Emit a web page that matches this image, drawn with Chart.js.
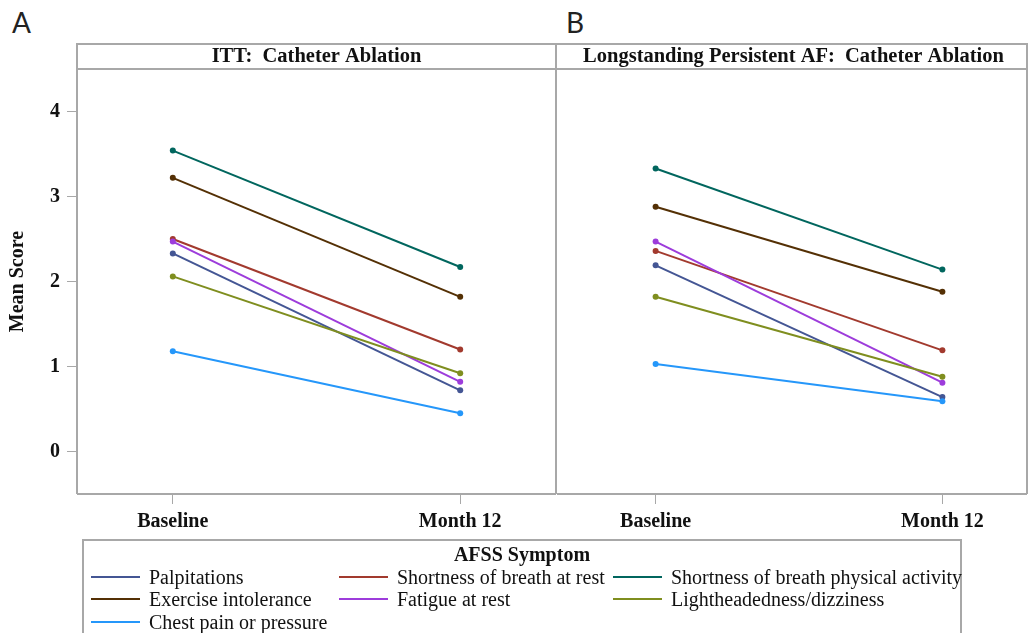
<!DOCTYPE html>
<html>
<head>
<meta charset="utf-8">
<script src="https://cdn.jsdelivr.net/npm/chart.js@4.4.1/dist/chart.umd.min.js"></script>
<style>
  html, body { margin: 0; padding: 0; background: #fff; }
  body { width: 1030px; height: 633px; overflow: hidden; position: relative; font-family: "Liberation Serif", "Times New Roman", serif; }
  .tag { position: absolute; top: 8px; font-family: Lato, "Open Sans", sans-serif; font-size: 28px; line-height: 1; color: #222; }
  .wrap { position: absolute; top: 43px; }
  #legend { position: absolute; left: 82px; top: 539px; width: 880px; height: 110px; border: 2px solid #a8a8a8; box-sizing: border-box; }
  #legend .ttl { position: absolute; left: 0; right: 0; top: 0; text-align: center; font-weight: bold; font-size: 20px; line-height: 26px; color: #111; }
  #legend .item { position: absolute; height: 22px; display: flex; align-items: center; white-space: nowrap; font-size: 20px; color: #111; }
  #legend .swatch { display: inline-block; width: 49px; height: 2px; margin-right: 9px; }
</style>
</head>
<body>
<div class="tag" style="left:12px">A</div>
<div class="tag" style="left:566px">B</div>
<div class="wrap" style="left:0;width:559px;height:497px"><canvas id="itt" width="559" height="497"></canvas></div>
<div class="wrap" style="left:557px;width:473px;height:497px"><canvas id="lsp" width="473" height="497"></canvas></div>
<div id="legend"><div class="ttl">AFSS Symptom</div></div>

<script>
// Visits on the x axis
const visits = ['Baseline', 'Month 12'];

// AFSS symptoms (legend order)
const symptoms = [
  'Palpitations',
  'Shortness of breath at rest',
  'Shortness of breath physical activity',
  'Exercise intolerance',
  'Fatigue at rest',
  'Lightheadedness/dizziness',
  'Chest pain or pressure'
];

const symptomColors = ['#445694', '#A23A2E', '#01665E', '#543005', '#9D3CDB', '#7F8E1F', '#2597FA'];

// Mean scores, ITT catheter ablation group
const ittBaseline = [2.33, 2.50, 3.54, 3.22, 2.47, 2.06, 1.18];
const ittMonth12  = [0.72, 1.20, 2.17, 1.82, 0.82, 0.92, 0.45];

// Mean scores, longstanding persistent AF catheter ablation group
const lspBaseline = [2.19, 2.36, 3.33, 2.88, 2.47, 1.82, 1.03];
const lspMonth12  = [0.64, 1.19, 2.14, 1.88, 0.81, 0.88, 0.59];

// Y axis ticks
const yTicks = [0, 1, 2, 3, 4];

const FRAME = '#a8a8a8';
const SERIF = '"Liberation Serif", "Times New Roman", serif';

// Draws the panel frame: header strip plus the box around the plot area.
// The left edge can be skipped where a neighbouring panel already draws it;
// the horizontal rules then run to the canvas edge to join that panel.
const panelFrame = {
  id: 'panelFrame',
  afterDraw(chart, args, opts) {
    const { ctx, chartArea: a } = chart;
    const x0 = opts.leftEdge === false ? 0 : a.left;
    ctx.save();
    ctx.strokeStyle = FRAME;
    ctx.lineWidth = 2;
    ctx.beginPath();
    ctx.moveTo(x0, 1); ctx.lineTo(a.right, 1);
    ctx.moveTo(x0, a.top); ctx.lineTo(a.right, a.top);
    if (opts.leftEdge !== false) { ctx.moveTo(a.left, 0); ctx.lineTo(a.left, a.bottom); }
    ctx.moveTo(a.right, 0); ctx.lineTo(a.right, a.bottom);
    ctx.moveTo(x0, a.bottom); ctx.lineTo(a.right, a.bottom);
    ctx.stroke();
    ctx.restore();
  }
};

function buildDatasets(base, m12) {
  return symptoms.map((name, i) => ({
    label: name,
    data: [{ x: 0, y: base[i] }, { x: 1, y: m12[i] }],
    borderColor: symptomColors[i],
    backgroundColor: symptomColors[i],
    borderWidth: 2,
    pointRadius: 3,
    pointBorderWidth: 0,
    pointHoverRadius: 3,
    order: symptoms.length - i
  }));
}

function makeChart(id, title, base, m12, opts) {
  return new Chart(document.getElementById(id), {
    type: 'line',
    data: { datasets: buildDatasets(base, m12) },
    plugins: [panelFrame],
    options: {
      responsive: false,
      animation: false,
      events: [],
      layout: { padding: { left: opts.padLeft, right: opts.padRight, top: 0, bottom: 0 } },
      plugins: {
        legend: { display: false },
        tooltip: { enabled: false },
        panelFrame: { leftEdge: opts.showY },
        title: {
          display: true,
          text: title,
          fullSize: false,
          color: '#111',
          font: { family: SERIF, size: 20.5, weight: 'bold', lineHeight: 1.2 },
          padding: { top: 1.4, bottom: 0 }
        }
      },
      scales: {
        x: {
          type: 'linear',
          min: -1 / 3,
          max: opts.xMax,
          afterBuildTicks: s => { s.ticks = visits.map((_, i) => ({ value: i })); },
          afterFit: s => { s.height = 46; },
          ticks: {
            callback: v => visits[v],
            color: '#111',
            padding: 6,
            maxRotation: 0,
            autoSkip: false,
            font: { family: SERIF, size: 20, weight: 'bold', lineHeight: 1.2 }
          },
          grid: { drawOnChartArea: false, drawTicks: true, tickLength: 10, color: FRAME, lineWidth: 1 },
          border: { display: false }
        },
        y: {
          display: opts.showY,
          min: -0.5,
          max: 4.5,
          afterBuildTicks: s => { s.ticks = yTicks.map(v => ({ value: v })); },
          afterFit: s => { s.width = opts.showY ? 77 : 0; },
          ticks: {
            color: '#111',
            padding: 7,
            font: { family: SERIF, size: 20, weight: 'bold', lineHeight: 1.2 }
          },
          grid: { drawOnChartArea: false, drawTicks: true, tickLength: 10, color: FRAME, lineWidth: 1 },
          border: { display: false },
          title: {
            display: true,
            text: 'Mean Score',
            color: '#111',
            padding: { top: 6, bottom: 0 },
            font: { family: SERIF, size: 20, weight: 'bold', lineHeight: 1.2 }
          }
        }
      }
    }
  });
}

makeChart('itt', 'ITT:  Catheter Ablation', ittBaseline, ittMonth12,
  { padLeft: 0, padRight: 0, xMax: 4 / 3, showY: true });
makeChart('lsp', 'Longstanding Persistent AF:  Catheter Ablation', lspBaseline, lspMonth12,
  { padLeft: 1, padRight: 2, xMax: 1.295, showY: false });

// Shared legend, three entries per row
const legend = document.getElementById('legend');
const colLeft = [7, 255, 529];
const rowTop = [25, 47, 70];
symptoms.forEach((name, i) => {
  const item = document.createElement('div');
  item.className = 'item';
  item.style.left = colLeft[i % 3] + 'px';
  item.style.top = rowTop[Math.floor(i / 3)] + 'px';
  const sw = document.createElement('span');
  sw.className = 'swatch';
  sw.style.background = symptomColors[i];
  const tx = document.createElement('span');
  tx.textContent = name;
  item.appendChild(sw);
  item.appendChild(tx);
  legend.appendChild(item);
});
</script>
</body>
</html>
